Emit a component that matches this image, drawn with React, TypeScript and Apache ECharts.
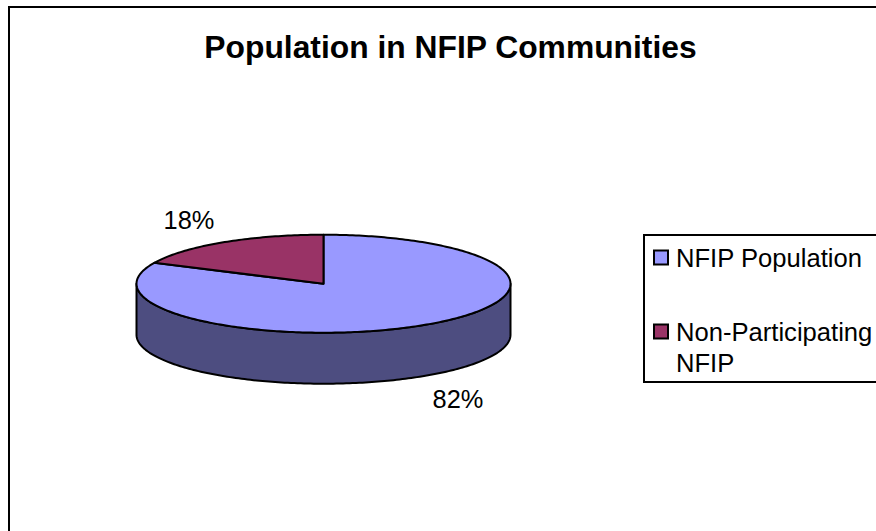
import React, { useEffect, useRef } from "react";
import * as echarts from "echarts";

const titleText = "Population in NFIP Communities";
const sliceNames = ["NFIP Population", "Non-Participating NFIP"];
const sliceValues = [82, 18];
const sliceColors = ["#9999FF", "#993366"];
const sideColors = ["#4D4D80", "#4D1A33"];
const labelPositions = [[458, 399], [189, 220]];

const FONT = '"Liberation Sans", Arial, sans-serif';
const CX = 323.5, CY = 283.7, RX = 187, RY = 49, DEPTH = 51;
const total = sliceValues.reduce((a, b) => a + b, 0);

function pt(theta: number, dy = 0): number[] {
  return [CX + RX * Math.sin(theta), CY - RY * Math.cos(theta) + dy];
}
function arc(from: number, to: number, dy = 0): number[][] {
  const n = Math.max(2, Math.ceil(Math.abs(to - from) / (Math.PI / 180)));
  const out: number[][] = [];
  for (let i = 0; i <= n; i++) out.push(pt(from + ((to - from) * i) / n, dy));
  return out;
}
function sliceRange(idx: number): [number, number] {
  let start = 0;
  for (let i = 0; i < idx; i++) start += sliceValues[i];
  return [(start / total) * 2 * Math.PI, ((start + sliceValues[idx]) / total) * 2 * Math.PI];
}

function makeRender(idx: number) {
  return () => {
    const [a, b] = sliceRange(idx);
    const children: any[] = [];
    const lo = Math.max(a, Math.PI / 2);
    const hi = Math.min(b, (3 * Math.PI) / 2);
    if (hi > lo) {
      children.push({
        type: "polygon",
        shape: { points: [...arc(lo, hi), ...arc(hi, lo, DEPTH)] },
        style: { fill: sideColors[idx], stroke: "#000", lineWidth: 2, lineJoin: "round" },
      });
    }
    children.push({
      type: "polygon",
      shape: { points: [[CX, CY], ...arc(a, b)] },
      style: { fill: sliceColors[idx], stroke: "#000", lineWidth: 2, lineJoin: "round" },
    });
    children.push({
      type: "text",
      x: labelPositions[idx][0],
      y: labelPositions[idx][1],
      style: {
        text: `${Math.round((sliceValues[idx] / total) * 100)}%`,
        font: `25.4px ${FONT}`,
        fill: "#000",
        align: "center",
        verticalAlign: "middle",
      },
    });
    return { type: "group", children };
  };
}

export default function App() {
  const ref = useRef<HTMLDivElement>(null);
  useEffect(() => {
    document.body.style.margin = "0";
    const chart = echarts.init(ref.current!, null, { renderer: "svg" });
    chart.setOption({
      animation: false,
      backgroundColor: "#fff",
      title: {
        text: titleText,
        left: 445.5,
        top: 26,
        textAlign: "center",
        textStyle: { fontFamily: FONT, fontWeight: "bold", fontSize: 31.8, color: "#000" },
      },
      legend: {
        orient: "vertical",
        left: 644,
        top: 235,
        width: 260,
        padding: [7, 20, 4, 9],
        itemGap: 12,
        itemWidth: 14,
        itemHeight: 14,
        icon: "rect",
        selectedMode: false,
        borderColor: "#000",
        borderWidth: 2,
        itemStyle: { borderColor: "#000", borderWidth: 2 },
        data: sliceNames,
        formatter: (name: string) =>
          name === sliceNames[1] ? " \nNon-Participating\nNFIP" : name,
        textStyle: {
          fontFamily: FONT,
          fontSize: 25.6,
          color: "#000",
          lineHeight: 31,
          padding: [0, 0, 0, 3],
        },
      },
      graphic: [
        {
          type: "polyline",
          shape: { points: [[9, 540], [9, 7], [885, 7]] },
          style: { fill: "none", stroke: "#000", lineWidth: 2 },
          silent: true,
        },
      ],
      series: sliceNames.map((name, i) => ({
        type: "custom",
        name,
        coordinateSystem: "none",
        silent: true,
        itemStyle: { color: sliceColors[i] },
        data: [sliceValues[i]],
        renderItem: makeRender(i),
      })),
    });
    return () => chart.dispose();
  }, []);
  return (
    <div
      ref={ref}
      style={{ position: "fixed", left: 0, top: 0, width: 876, height: 531 }}
    />
  );
}
